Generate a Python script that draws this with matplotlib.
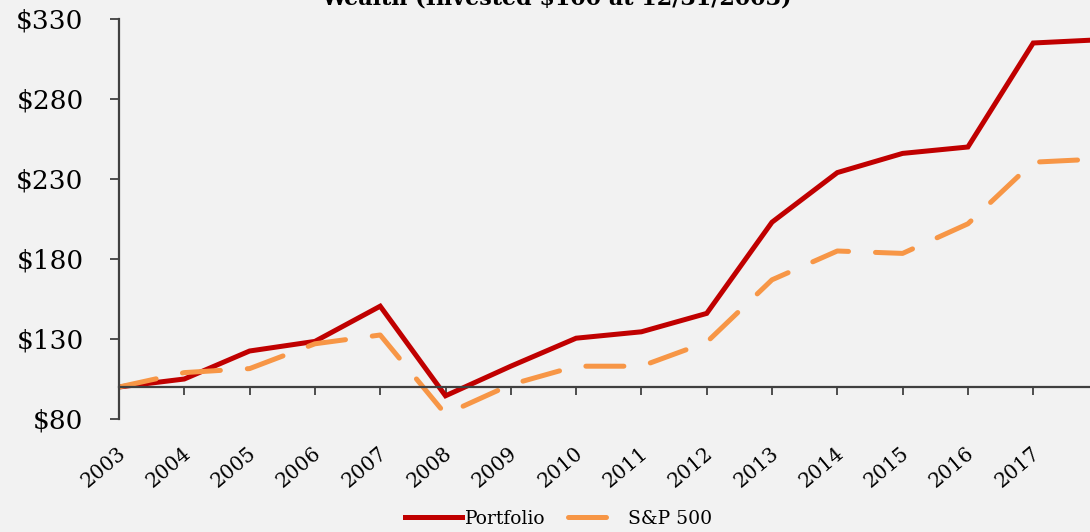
import numpy as np
import matplotlib.pyplot as plt
import matplotlib.transforms as mtransforms

# data (value of $100 invested at 12/31/2003)
years = ['2003', '2004', '2005', '2006', '2007', '2008', '2009', '2010',
         '2011', '2012', '2013', '2014', '2015', '2016', '2017', '2018']
portfolio = [100, 105, 122.5, 128.5, 150.5, 94.5, 113, 130.5,
             134.5, 146, 203, 234, 246, 250, 315, 317]
sp500 = [100, 109, 111.5, 127, 132.5, 83, 101.5, 113,
         113, 128, 167, 185, 183.5, 202, 240.5, 242.5]
ytick_vals = [80, 130, 180, 230, 280, 330]

bg = '#f2f2f2'
axis_col = '#404040'
plt.rcParams['font.family'] = ['DejaVu Serif']

fig = plt.figure(figsize=(10.9, 5.32), dpi=100, facecolor=bg)
W, H = 1090, 532
# plot area: left spine at x=119, $80 at y=419, $330 at y=19
ax = fig.add_axes([119 / W, (H - 419) / H, 1 - 119 / W, 400 / H])
ax.set_facecolor(bg)

x = np.arange(len(years))
ax.plot(x, portfolio, color='#C00000', lw=3.6, solid_joinstyle='miter',
        label='Portfolio')
ax.plot(x, sp500, color='#F79646', lw=3.6, dashes=(7.6, 5.4),
        dash_capstyle='round', label='S&P 500')

step = 65.3
ax.set_xlim(0, (W - 119) / step)
ax.set_ylim(80, 330)

ax.set_yticks(ytick_vals)
ax.set_yticklabels(['$%d' % v for v in ytick_vals], fontsize=19)
ax.tick_params(axis='y', direction='out', length=6.5, width=1.3,
               color=axis_col, pad=19)

# category axis crosses at $100, labels sit below the plot
ax.spines['bottom'].set_position(('data', 100))
ax.set_xticks(x[:15])
ax.set_xticklabels([])
ax.tick_params(axis='x', direction='out', length=5.5, width=1.3, color=axis_col)
for side in ['top', 'right']:
    ax.spines[side].set_visible(False)
for side in ['left', 'bottom']:
    ax.spines[side].set_color(axis_col)
    ax.spines[side].set_linewidth(1.6)

trans = mtransforms.blended_transform_factory(ax.transData, ax.transAxes)
for i, yr in enumerate(years[:15]):
    ax.text(i + 0.06, -0.08, yr, transform=trans, rotation=40,
            rotation_mode='anchor', ha='right', va='center', fontsize=14.5)

fig.text(556 / W, (H - 5) / H, 'Wealth (Invested $100 at 12/31/2003)',
         ha='center', va='baseline', fontsize=16, fontweight='bold')

fig.legend(loc='center', bbox_to_anchor=(559 / W, 13 / H), ncol=2,
           frameon=False, fontsize=13.5, handlelength=3.0, handletextpad=0.2,
           columnspacing=1.2)

fig.savefig('out.png', dpi=100, facecolor=bg)
